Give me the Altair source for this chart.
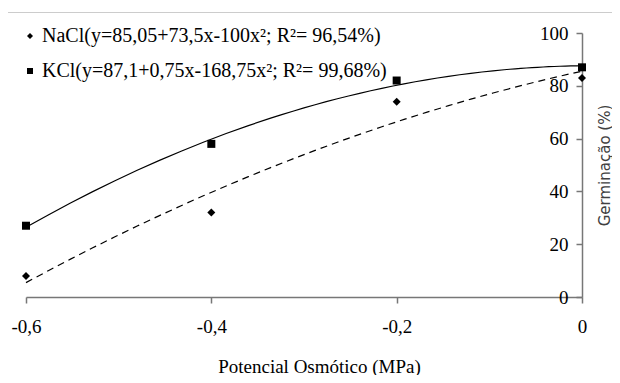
import altair as alt
import pandas as pd

# ---- data ----
x_values = [-0.6, -0.4, -0.2, 0.0]
nacl_values = [8, 32, 74, 83]
kcl_values = [27, 58, 82, 87]
series_names = ["NaCl", "KCl"]
legend_labels = [
    "NaCl(y=85,05+73,5x-100x²; R²= 96,54%)",
    "KCl(y=87,1+0,75x-168,75x²; R²= 99,68%)",
]
x_ticks = [-0.6, -0.4, -0.2, 0]
y_ticks = [0, 20, 40, 60, 80, 100]

rows = []
for name, vals in zip(series_names, [nacl_values, kcl_values]):
    for xv, yv in zip(x_values, vals):
        rows.append({"x": xv, "y": yv, "serie": name})
df = pd.DataFrame(rows)

W, H = 556, 264
serif = "Liberation Serif"
axis_col = "#777777"

xscale = alt.Scale(domain=[-0.6, 0], nice=False, zero=False)
yscale = alt.Scale(domain=[0, 100], nice=False)

x_axis = alt.Axis(
    values=x_ticks,
    labelExpr="(datum.value < 0 ? '-' : '') + (datum.value == 0 ? '0' : replace(format(abs(datum.value), '.1f'), '.', ','))",
    title="Potencial Osmótico (MPa)",
    grid=False,
    domainColor=axis_col, tickColor=axis_col, domainWidth=1.5, tickWidth=1.5,
    tickSize=6, labelPadding=14, labelFlush=False,
    labelFont=serif, labelFontSize=19, labelColor="black",
    titleFont=serif, titleFontSize=19, titleFontWeight="normal", titleColor="black",
    titleX=293, titleY=75, titleBaseline="alphabetic", titleAlign="center",
)

y_axis = alt.Axis(
    orient="left", offset=-W,
    values=y_ticks, format="d",
    title="Germinação (%)",
    grid=False,
    domainColor=axis_col, tickColor=axis_col, domainWidth=1.5, tickWidth=1.5,
    tickSize=6, labelPadding=8,
    labelFont=serif, labelFontSize=19, labelColor="black",
    titleFont="DejaVu Sans", titleFontSize=15, titleFontWeight="normal", titleColor="#404040",
    titleAngle=270, titleX=22, titleY=H / 2, titleAlign="center", titleBaseline="middle",
)

label_expr = "datum.label == '{0}' ? '{1}' : '{2}'".format(
    series_names[0], legend_labels[0], legend_labels[1]
)

X = alt.X("x:Q", scale=xscale, axis=x_axis)
Y = alt.Y("y:Q", scale=yscale, axis=y_axis)

base = alt.Chart(df)

line_nacl = base.transform_filter(
    alt.datum.serie == series_names[0]
).transform_regression(
    "x", "y", method="poly", order=2
).mark_line(color="black", strokeWidth=1.2, strokeDash=[7, 5]).encode(x=X, y=Y)

line_kcl = base.transform_filter(
    alt.datum.serie == series_names[1]
).transform_regression(
    "x", "y", method="poly", order=2
).mark_line(color="black", strokeWidth=1.2).encode(x=X, y=Y)

points = base.mark_point(filled=True, color="black", size=64, opacity=1).encode(
    x=X,
    y=Y,
    shape=alt.Shape(
        "serie:N",
        scale=alt.Scale(domain=series_names, range=["diamond", "square"]),
        legend=alt.Legend(
            orient="none", legendX=-6, legendY=-7, title=None,
            labelExpr=label_expr,
            labelFont=serif, labelFontSize=20, labelColor="black",
            symbolFillColor="black", symbolStrokeWidth=0, symbolSize=36,
            labelOffset=2, rowPadding=15, labelLimit=0,
            direction="vertical", padding=0,
        ),
    ),
)

border = alt.Chart(pd.DataFrame({"k": [0]})).mark_rect(
    fillOpacity=0, stroke="#cccccc", strokeWidth=1
).encode(
    x=alt.value(-18.5), x2=alt.value(700),
    y=alt.value(-20.5), y2=alt.value(600),
)

chart = alt.layer(border, line_nacl, line_kcl, points).properties(
    width=W, height=H,
    autosize=alt.AutoSizeParams(type="none"),
    padding={"left": 18, "top": 25, "right": 30, "bottom": 78},
).configure(
    font=serif
).configure_view(
    stroke=None
).configure_axis(
    labelFont=serif, labelFontSize=19, labelColor="black"
)

chart.save("out.html", embed_options={"renderer": "svg", "actions": False})
